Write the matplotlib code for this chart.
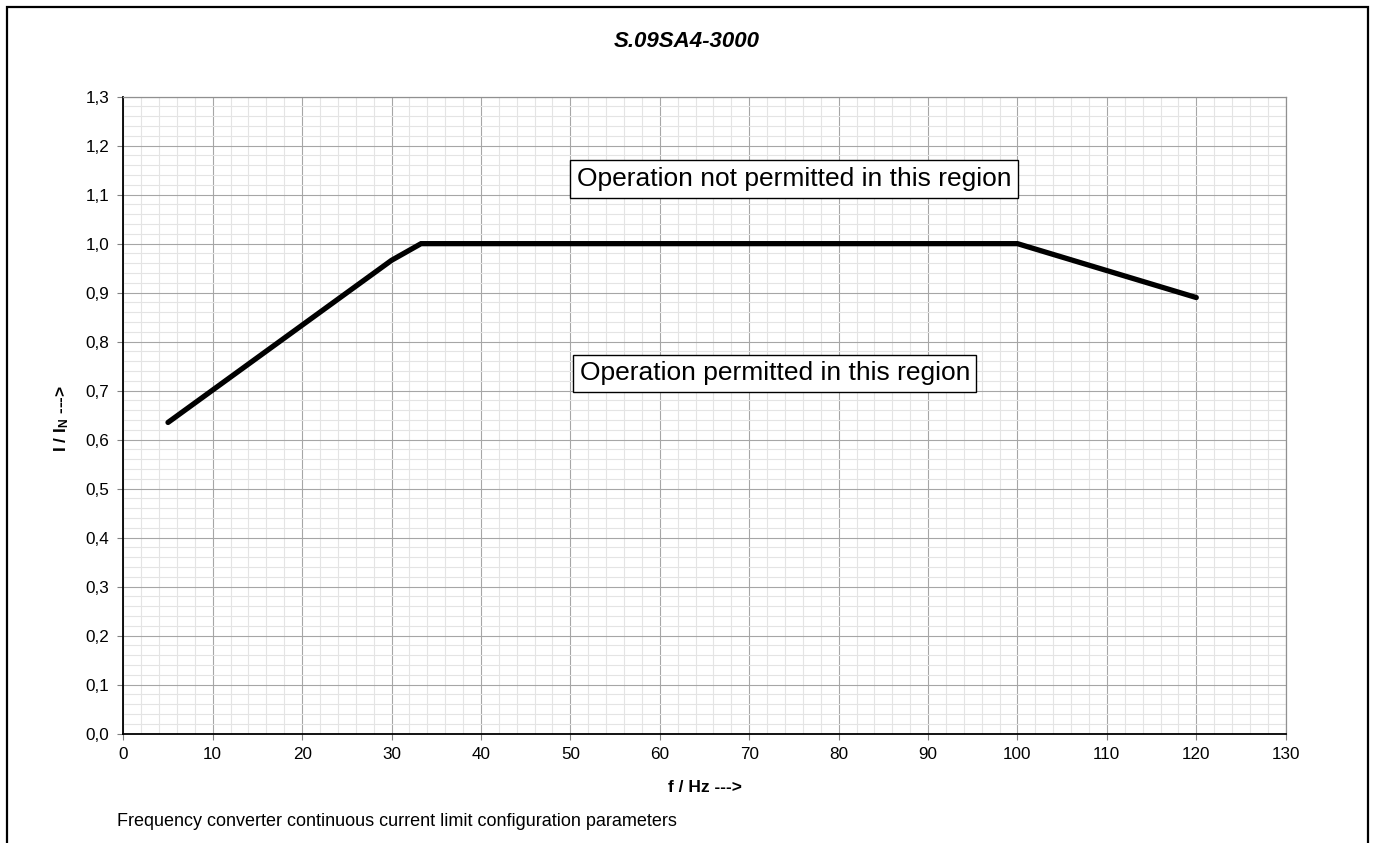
import matplotlib
matplotlib.use("Agg")
import matplotlib.pyplot as plt
from matplotlib.ticker import MultipleLocator, FuncFormatter
from matplotlib.patches import Rectangle

plt.rcParams['font.family'] = ['Liberation Sans', 'DejaVu Sans']
plt.rcParams['mathtext.fontset'] = 'custom'
plt.rcParams['mathtext.rm'] = 'Liberation Sans'
plt.rcParams['mathtext.bf'] = 'Liberation Sans:bold'
plt.rcParams['mathtext.it'] = 'Liberation Sans:italic'

# Data
freq_hz = [5, 30, 33.3, 100, 120]
current_ratio = [0.635, 0.966, 1.0, 1.0, 0.89]
x_ticks = list(range(0, 131, 10))
y_ticks = [i / 10 for i in range(0, 14)]
title = "S.09SA4-3000"
label_upper = "Operation not permitted in this region"
label_lower = "Operation permitted in this region"
footer = "Frequency converter continuous current limit configuration parameters"

W, H = 1373, 843
fig = plt.figure(figsize=(W / 100, H / 100), dpi=100)
ax = fig.add_axes([123.3 / W, 1 - 733.5 / H, (1285.7 - 123.3) / W, (733.5 - 96.7) / H])

# outer frame (no bottom edge visible)
frame = Rectangle((7 / W, -0.05), (1367.5 - 7) / W, (843 - 7) / H + 0.05,
                  transform=fig.transFigure, fill=False, edgecolor='black',
                  linewidth=1.6, zorder=0)
fig.patches.append(frame)

ax.set_xlim(0, 130)
ax.set_ylim(0, 1.3)
ax.set_xticks(x_ticks)
ax.set_yticks(y_ticks)
ax.xaxis.set_minor_locator(MultipleLocator(2))
ax.yaxis.set_minor_locator(MultipleLocator(0.02))
ax.yaxis.set_major_formatter(FuncFormatter(lambda v, p: f"{v:.1f}".replace('.', ',')))
ax.xaxis.set_major_formatter(FuncFormatter(lambda v, p: f"{v:.0f}"))

ax.grid(which='major', color='#a6a6a6', linewidth=0.8)
ax.grid(which='minor', color='#e4e4e4', linewidth=0.8)
ax.set_axisbelow(True)

ax.tick_params(which='major', direction='out', length=4, width=0.8, color='#808080',
               labelsize=12.3, pad=6)
ax.tick_params(which='minor', length=0)

for s in ['top', 'right']:
    ax.spines[s].set_color('#909090')
    ax.spines[s].set_linewidth(0.9)
for s in ['left', 'bottom']:
    ax.spines[s].set_color('black')
    ax.spines[s].set_linewidth(1.3)

ax.plot(freq_hz, current_ratio, color='black', linewidth=3.8,
        solid_capstyle='round', solid_joinstyle='miter', zorder=3)

box = dict(boxstyle='square,pad=0.25', facecolor='white', edgecolor='black', linewidth=1.0)
ax.text(75.0, 1.132, label_upper, ha='center', va='center', fontsize=19, bbox=box, zorder=4)
ax.text(72.85, 0.735, label_lower, ha='center', va='center', fontsize=19, bbox=box, zorder=4)

fig.text(0.5, 1 - 41.7 / H, title, ha='center', va='center', fontsize=16,
         fontweight='bold', fontstyle='italic')
fig.text(705 / W, 1 - 787 / H, "f / Hz --->", ha='center', va='center', fontsize=12.5,
         fontweight='bold')
fig.text(62 / W, 1 - 418 / H, r"I / I$_\mathbf{N}$ --->", ha='center', va='center',
         fontsize=12.5, fontweight='bold', rotation=90)
fig.text(117 / W, 1 - 822 / H, footer, ha='left', va='center', fontsize=13)

fig.savefig("out.png", dpi=100)
